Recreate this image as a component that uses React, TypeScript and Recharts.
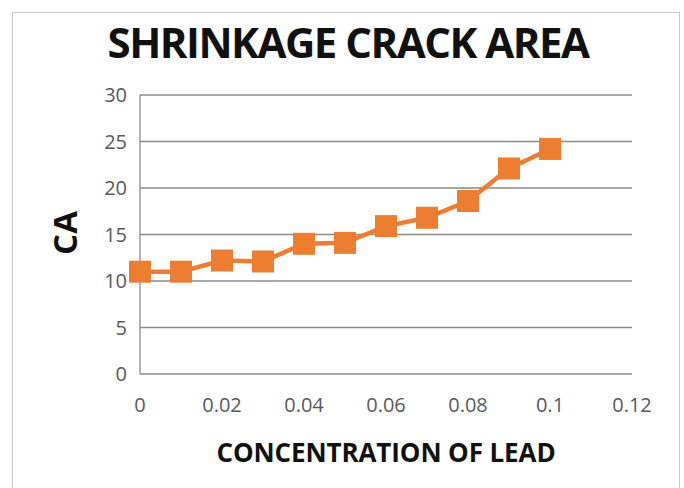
import React from 'react';
import { LineChart, Line, XAxis, YAxis, CartesianGrid } from 'recharts';

const concentrations = [0, 0.01, 0.02, 0.03, 0.04, 0.05, 0.06, 0.07, 0.08, 0.09, 0.1];
const crackArea = [11.0, 11.0, 12.2, 12.1, 14.0, 14.1, 15.9, 16.8, 18.6, 22.1, 24.2];
const xTicks = [0, 0.02, 0.04, 0.06, 0.08, 0.1, 0.12];
const yTicks = [0, 5, 10, 15, 20, 25, 30];

const data = concentrations.map((c, i) => ({ x: c, ca: crackArea[i] }));

const SquareDot = (props: any) => {
  const { cx, cy } = props;
  if (cx == null || cy == null) return null;
  const s = 22;
  return <rect x={cx - s / 2} y={cy - s / 2} width={s} height={s} fill="#ED7D31" />;
};

const tickStyle = { fill: '#595959', fontSize: 20, fontFamily: 'Open Sans' };

export default function App() {
  return (
    <div style={{ position: 'absolute', left: 0, top: 0, width: 684, height: 488, background: '#fff' }}>
      <div
        style={{
          position: 'absolute',
          left: 12,
          top: 12,
          width: 668,
          height: 480,
          border: '1px solid #c8c8c8',
          boxSizing: 'border-box',
        }}
      />
      <div
        style={{
          position: 'absolute',
          left: 0,
          top: 13,
          width: 696,
          textAlign: 'center',
          fontFamily: 'Open Sans',
          fontWeight: 700,
          fontSize: 42,
          letterSpacing: -1.5,
          color: '#111',
          whiteSpace: 'nowrap',
        }}
      >
        SHRINKAGE CRACK AREA
      </div>
      <div
        style={{
          position: 'absolute',
          left: 0,
          top: 434,
          width: 772,
          textAlign: 'center',
          fontFamily: 'Open Sans',
          fontWeight: 700,
          fontSize: 26,
          letterSpacing: -0.1,
          color: '#111',
          whiteSpace: 'nowrap',
        }}
      >
        CONCENTRATION OF LEAD
      </div>
      <div
        style={{
          position: 'absolute',
          left: 64,
          top: 233,
          transform: 'translate(-50%, -50%) rotate(-90deg)',
          fontFamily: 'Open Sans',
          fontWeight: 700,
          fontSize: 33,
          color: '#111',
        }}
      >
        CA
      </div>
      <div style={{ position: 'absolute', left: 0, top: 0 }}>
        <LineChart
          width={684}
          height={488}
          data={data}
          margin={{ top: 95, right: 52, left: 100, bottom: 84 }}
        >
          <CartesianGrid vertical={false} stroke="#8a8a8a" strokeWidth={1.3} />
          <XAxis
            dataKey="x"
            type="number"
            domain={[0, 0.12]}
            ticks={xTicks}
            tickFormatter={(v: number) => String(+v.toFixed(2))}
            axisLine={false}
            tickLine={false}
            tick={tickStyle}
            tickMargin={18}
            height={30}
          />
          <YAxis
            type="number"
            domain={[0, 30]}
            ticks={yTicks}
            axisLine={{ stroke: '#8a8a8a', strokeWidth: 1.3 }}
            tickLine={false}
            tick={tickStyle}
            tickMargin={7}
            width={40}
          />
          <Line
            dataKey="ca"
            stroke="#ED7D31"
            strokeWidth={4.5}
            dot={<SquareDot />}
            isAnimationActive={false}
          />
        </LineChart>
      </div>
    </div>
  );
}
